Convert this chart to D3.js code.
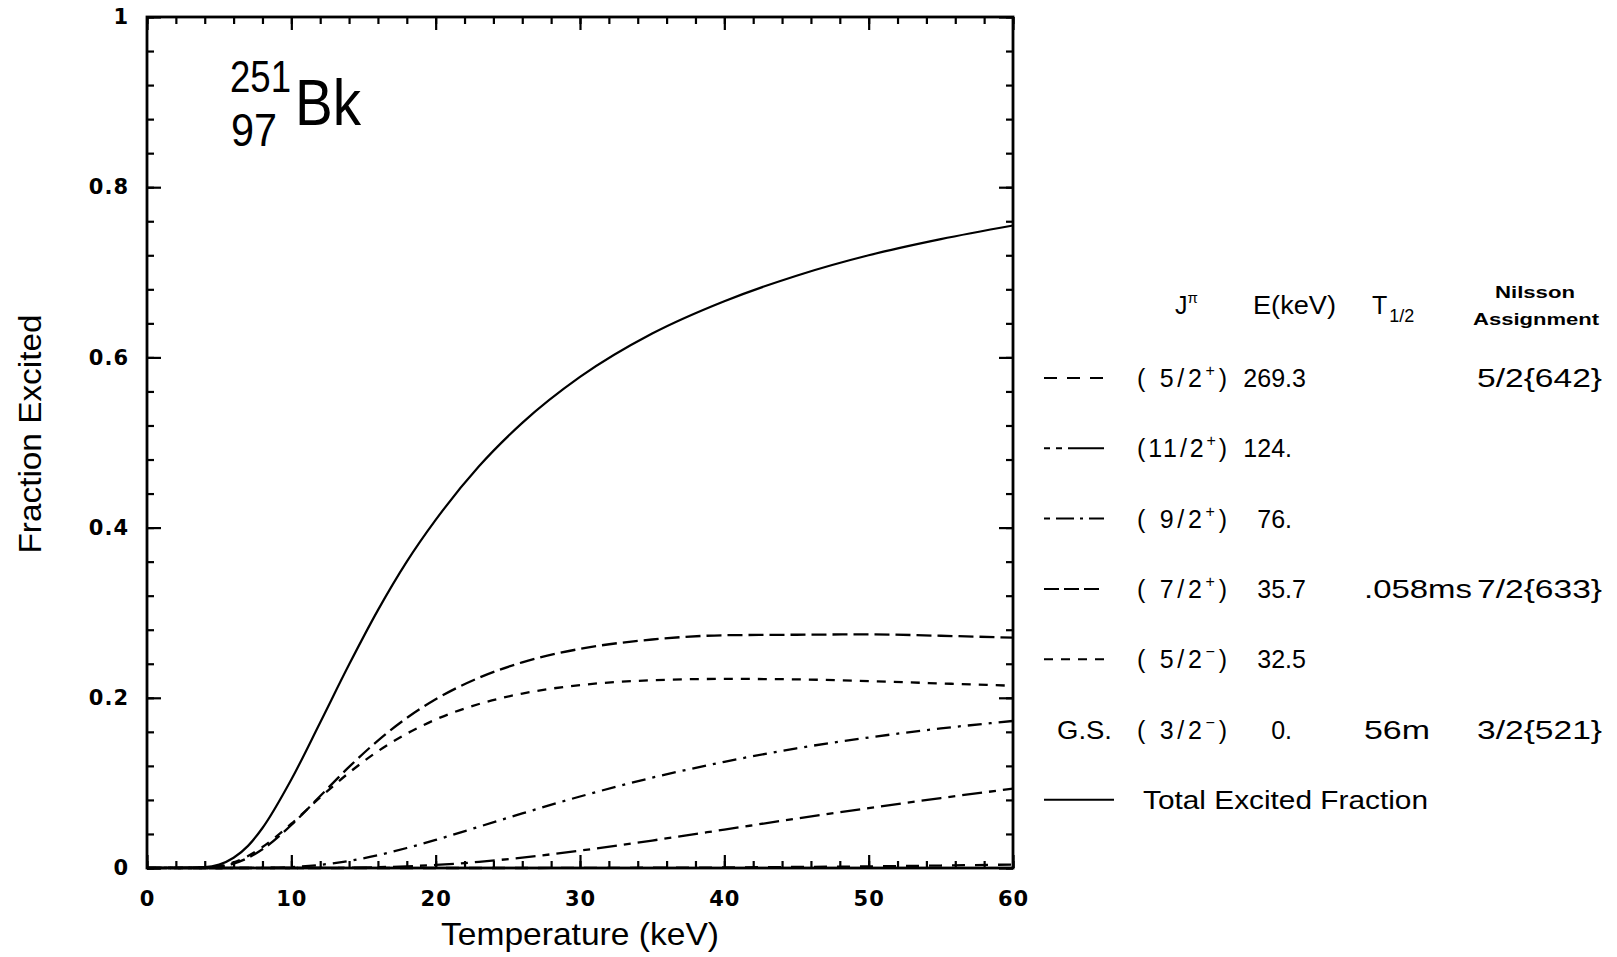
<!DOCTYPE html>
<html><head><meta charset="utf-8">
<script src="https://cdn.jsdelivr.net/npm/d3@7"></script>
<style>
body{margin:0;background:#fff;}
svg{display:block;}
text{font-family:"Liberation Sans",Arial,sans-serif;fill:#000;}
</style>
</head><body>
<svg id="chart" width="1617" height="957"></svg>
<script>
// ---- data ----
const temperatures = [0, 4, 5, 6, 7, 8, 10, 12, 14, 16, 18, 20, 23, 26, 30, 35, 40, 45, 50, 55, 60];
const totalExcited = [0, 0.001, 0.004, 0.012, 0.026, 0.047, 0.104, 0.171, 0.239, 0.303, 0.360, 0.409, 0.472, 0.523, 0.577, 0.628, 0.666, 0.696, 0.720, 0.739, 0.755];
const level72p  = [0, 0.0003, 0.0016, 0.0052, 0.0119, 0.022, 0.0505, 0.0846, 0.1188, 0.1497, 0.1763, 0.1982, 0.2236, 0.2417, 0.2575, 0.2685, 0.2735, 0.2741, 0.2745, 0.2729, 0.2706];
const level52m  = [0, 0.0004, 0.0022, 0.0066, 0.0141, 0.0246, 0.0521, 0.0829, 0.112, 0.1372, 0.1579, 0.1745, 0.1927, 0.205, 0.2149, 0.2206, 0.2222, 0.2217, 0.2195, 0.2169, 0.2141];
const level92p  = [0, 0, 0, 0, 0.0001, 0.0002, 0.0011, 0.0037, 0.0083, 0.0151, 0.0235, 0.033, 0.0485, 0.0641, 0.084, 0.1061, 0.1248, 0.1406, 0.1533, 0.164, 0.1728];
const level112p = [0, 0, 0, 0, 0, 0, 0, 0.0001, 0.0003, 0.0009, 0.002, 0.0036, 0.0072, 0.0122, 0.0204, 0.0323, 0.0451, 0.0581, 0.0704, 0.0822, 0.0932];
const level52p  = [0, 0, 0, 0, 0, 0, 0, 0, 0, 0, 0, 0, 0, 0, 0.0001, 0.0003, 0.0006, 0.0012, 0.0019, 0.0029, 0.0041];

const xMajorTicks = [0, 10, 20, 30, 40, 50, 60];
const xTickLabels = ["0", "10", "20", "30", "40", "50", "60"];
const xMinorTicks = d3.range(0, 61, 2);
const yMajorTicks = [0, 0.2, 0.4, 0.6, 0.8, 1];
const yTickLabels = ["0", "0.2", "0.4", "0.6", "0.8", "1"];
const yMinorTicks = d3.range(0, 26).map(i => i * 0.04);

// legend table
const levelSpin    = ["( 5/2", "(11/2", "( 9/2", "( 7/2", "( 5/2", "( 3/2"];
const levelParity  = ["+", "+", "+", "+", "\u2212", "\u2212"];
const levelEnergy  = ["269.3", "124.", "76.", "35.7", "32.5", "0."];
const levelHalf    = ["", "", "", ".058ms", "", "56m"];
const levelNilsson = ["5/2{642}", "", "", "7/2{633}", "", "3/2{521}"];
const levelSeries  = [level52p, level112p, level92p, level72p, level52m, null];
const levelDash    = ["13,10", "20,7,7,7", "14,7,3,7", "15,6", "9,8", null];
const legendDash   = ["13,10", "6,6,6,6,36", "6,6,18,6,3,6,18", "15,5", "9,8", null];
const totalLabel = "Total Excited Fraction";

// ---- layout ----
const svg = d3.select("#chart");
const L = 147, R = 1013, T = 17, B = 868;
const x = d3.scaleLinear().domain([0, 60]).range([L, R]);
const y = d3.scaleLinear().domain([0, 1]).range([B, T]);

function styleAxis(g, showLabels) {
  g.select(".domain").remove();
  g.selectAll(".tick line").attr("stroke", "#000").attr("stroke-width", 2.2);
  g.selectAll(".tick text")
    .style("font-family", "'DejaVu Sans',sans-serif")
    .style("font-weight", "bold")
    .style("font-size", "21px")
    .style("letter-spacing", "1px")
    .attr("fill", "#000");
  if (!showLabels) g.selectAll(".tick text").remove();
}

// bottom
svg.append("g").attr("transform", `translate(0,${B})`)
  .call(d3.axisBottom(x).tickValues(xMinorTicks).tickSizeInner(-7).tickSizeOuter(0).tickFormat(""))
  .call(g => styleAxis(g, false));
svg.append("g").attr("transform", `translate(0,${B})`)
  .call(d3.axisBottom(x).tickValues(xMajorTicks).tickSizeInner(-13).tickSizeOuter(0).tickPadding(23)
        .tickFormat((d, i) => xTickLabels[i]))
  .call(g => styleAxis(g, true));
// top
svg.append("g").attr("transform", `translate(0,${T})`)
  .call(d3.axisTop(x).tickValues(xMinorTicks).tickSizeInner(-7).tickSizeOuter(0).tickFormat(""))
  .call(g => styleAxis(g, false));
svg.append("g").attr("transform", `translate(0,${T})`)
  .call(d3.axisTop(x).tickValues(xMajorTicks).tickSizeInner(-13).tickSizeOuter(0).tickFormat(""))
  .call(g => styleAxis(g, false));
// left
svg.append("g").attr("transform", `translate(${L},0)`)
  .call(d3.axisLeft(y).tickValues(yMinorTicks).tickSizeInner(-7).tickSizeOuter(0).tickFormat(""))
  .call(g => styleAxis(g, false));
svg.append("g").attr("transform", `translate(${L},0)`)
  .call(d3.axisLeft(y).tickValues(yMajorTicks).tickSizeInner(-14).tickSizeOuter(0).tickPadding(18)
        .tickFormat((d, i) => yTickLabels[i]))
  .call(g => styleAxis(g, true));
// right
svg.append("g").attr("transform", `translate(${R},0)`)
  .call(d3.axisRight(y).tickValues(yMinorTicks).tickSizeInner(-7).tickSizeOuter(0).tickFormat(""))
  .call(g => styleAxis(g, false));
svg.append("g").attr("transform", `translate(${R},0)`)
  .call(d3.axisRight(y).tickValues(yMajorTicks).tickSizeInner(-14).tickSizeOuter(0).tickFormat(""))
  .call(g => styleAxis(g, false));

// frame
svg.append("rect").attr("x", L).attr("y", T).attr("width", R - L).attr("height", B - T)
  .attr("fill", "none").attr("stroke", "#000").attr("stroke-width", 2.8);

// curves
const line = d3.line()
  .x((d, i) => x(temperatures[i]))
  .y(d => y(d))
  .curve(d3.curveMonotoneX);

const plot = svg.append("g");
levelSeries.forEach((s, k) => {
  if (!s) return;
  plot.append("path").attr("d", line(s)).attr("fill", "none").attr("stroke", "#000")
    .attr("stroke-width", 2.3).attr("stroke-dasharray", levelDash[k]);
});
plot.append("path").attr("d", line(totalExcited)).attr("fill", "none").attr("stroke", "#000")
  .attr("stroke-width", 2.2);

// axis titles
svg.append("text").attr("x", 580).attr("y", 945).attr("text-anchor", "middle")
  .attr("font-size", 32).attr("textLength", 278).attr("lengthAdjust", "spacingAndGlyphs")
  .text("Temperature (keV)");
svg.append("text").attr("transform", "translate(41,434) rotate(-90)").attr("text-anchor", "middle")
  .attr("font-size", 31).attr("textLength", 239).attr("lengthAdjust", "spacingAndGlyphs")
  .text("Fraction Excited");

// nuclide label
svg.append("text").attr("x", 230).attr("y", 92).attr("font-size", 45)
  .attr("textLength", 61).attr("lengthAdjust", "spacingAndGlyphs").text("251");
svg.append("text").attr("x", 231).attr("y", 146).attr("font-size", 46)
  .attr("textLength", 46).attr("lengthAdjust", "spacingAndGlyphs").text("97");
svg.append("text").attr("x", 295).attr("y", 125).attr("font-size", 64)
  .attr("textLength", 66).attr("lengthAdjust", "spacingAndGlyphs").text("Bk");

// legend headers
const lg = svg.append("g");
const hJ = lg.append("text").attr("x", 1175).attr("y", 314).attr("font-size", 25);
hJ.append("tspan").text("J");
hJ.append("tspan").attr("dy", -11).attr("font-size", 15).text("\u03c0");
lg.append("text").attr("x", 1253).attr("y", 314).attr("font-size", 25)
  .attr("textLength", 83).attr("lengthAdjust", "spacingAndGlyphs").text("E(keV)");
const hT = lg.append("text").attr("x", 1372).attr("y", 314).attr("font-size", 25);
hT.append("tspan").text("T");
hT.append("tspan").attr("dy", 8).attr("dx", 2).attr("font-size", 18).text("1/2");
lg.append("text").attr("x", 1535).attr("y", 298).attr("text-anchor", "middle")
  .attr("font-size", 16).attr("font-weight", "bold")
  .attr("textLength", 80).attr("lengthAdjust", "spacingAndGlyphs").text("Nilsson");
lg.append("text").attr("x", 1536).attr("y", 325).attr("text-anchor", "middle")
  .attr("font-size", 16).attr("font-weight", "bold")
  .attr("textLength", 126).attr("lengthAdjust", "spacingAndGlyphs").text("Assignment");

// legend rows
const rowY0 = 378, rowStep = 70.3;
levelSpin.forEach((sp, k) => {
  const ry = rowY0 + k * rowStep;
  if (legendDash[k]) {
    lg.append("line").attr("x1", 1044).attr("x2", 1104).attr("y1", ry).attr("y2", ry)
      .attr("stroke", "#000").attr("stroke-width", 2).attr("stroke-dasharray", legendDash[k]);
  } else {
    lg.append("text").attr("x", 1057).attr("y", ry + 9).attr("font-size", 25)
      .attr("textLength", 55).attr("lengthAdjust", "spacingAndGlyphs").text("G.S.");
  }
  const t = lg.append("text").attr("x", 1137).attr("y", ry + 9).attr("font-size", 25)
    .attr("textLength", 90).attr("lengthAdjust", "spacing");
  t.append("tspan").text(sp);
  t.append("tspan").attr("dy", -11).attr("font-size", 16).text(levelParity[k]);
  t.append("tspan").attr("dy", 11).text(")");
  const parts = levelEnergy[k].split(".");
  lg.append("text").attr("x", 1292).attr("y", ry + 9).attr("font-size", 25)
    .attr("text-anchor", "end").text(parts[0] + ".");
  if (parts[1]) lg.append("text").attr("x", 1292).attr("y", ry + 9).attr("font-size", 25).text(parts[1]);
  if (levelHalf[k]) {
    lg.append("text").attr("x", 1364).attr("y", ry + 9).attr("font-size", 25)
      .attr("textLength", levelHalf[k] === "56m" ? 66 : 108).attr("lengthAdjust", "spacingAndGlyphs")
      .text(levelHalf[k]);
  }
  if (levelNilsson[k]) {
    lg.append("text").attr("x", 1477).attr("y", ry + 9).attr("font-size", 25)
      .attr("textLength", 125).attr("lengthAdjust", "spacingAndGlyphs").text(levelNilsson[k]);
  }
});
const ty = rowY0 + 6 * rowStep;
lg.append("line").attr("x1", 1044).attr("x2", 1114).attr("y1", ty).attr("y2", ty)
  .attr("stroke", "#000").attr("stroke-width", 2);
lg.append("text").attr("x", 1143).attr("y", ty + 9).attr("font-size", 25)
  .attr("textLength", 285).attr("lengthAdjust", "spacingAndGlyphs").text(totalLabel);
</script>
</body></html>
